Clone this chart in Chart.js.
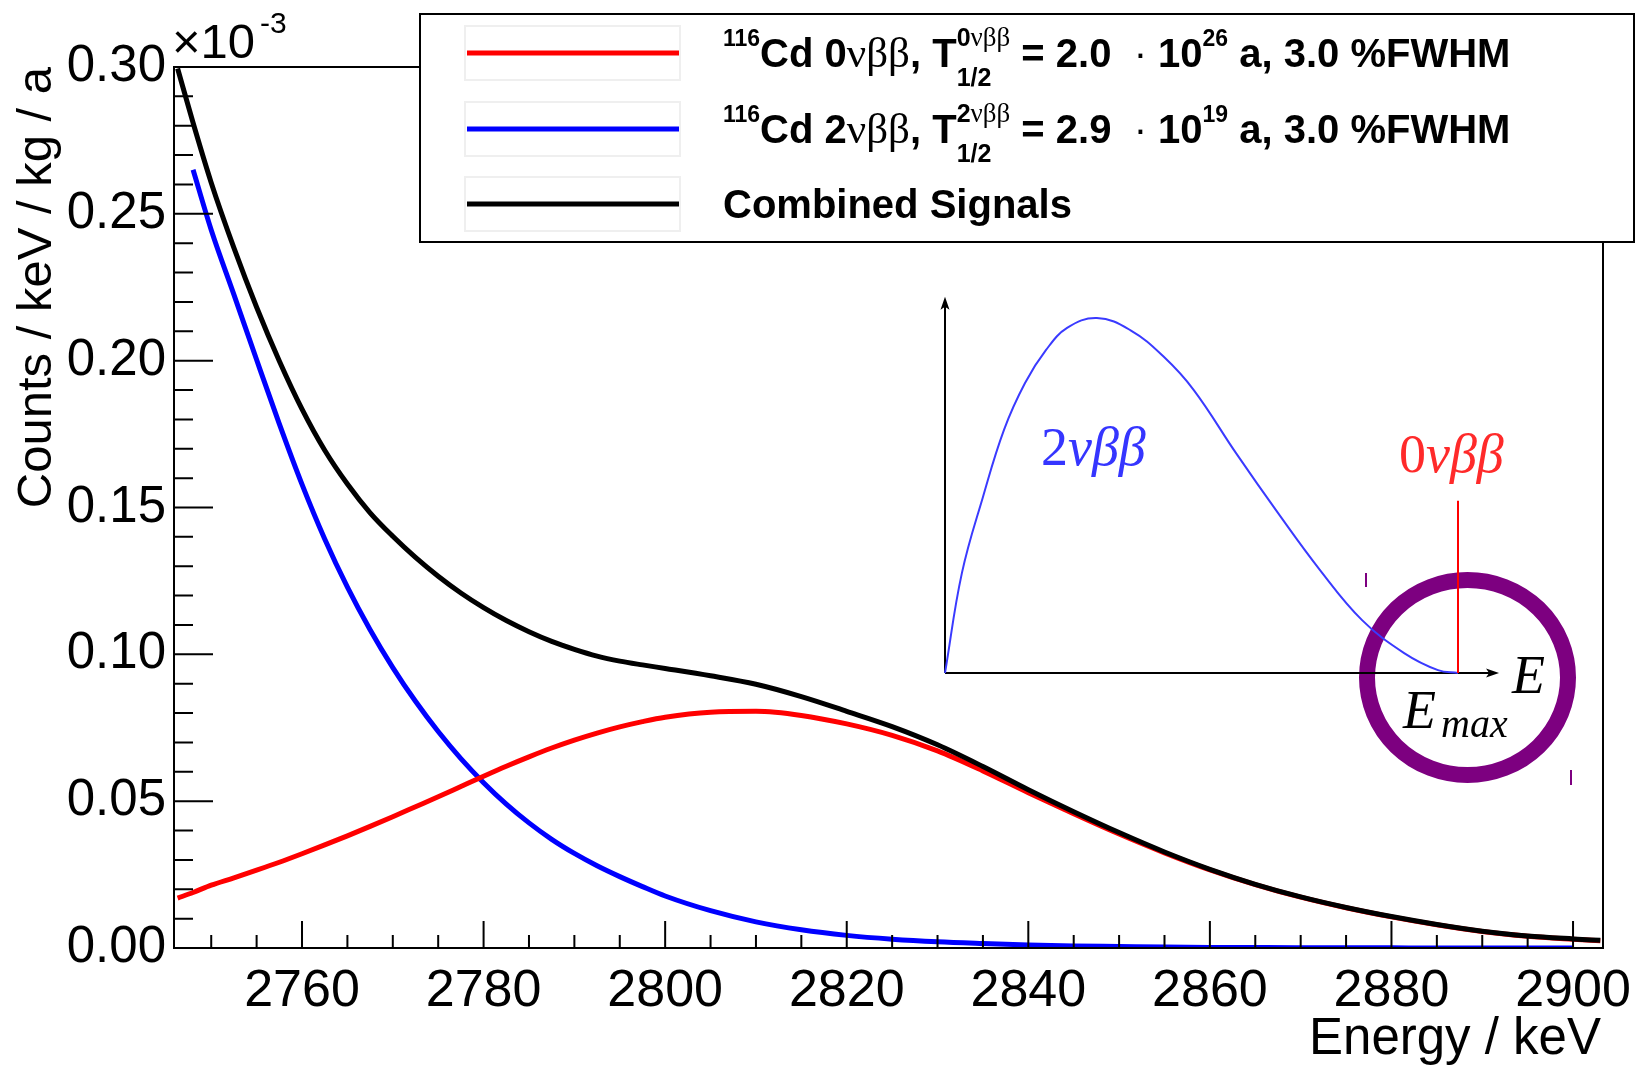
<!DOCTYPE html>
<html>
<head>
<meta charset="utf-8">
<script src="https://cdn.jsdelivr.net/npm/chart.js@4.4.1/dist/chart.umd.min.js"></script>
<style>
  html, body { margin: 0; padding: 0; background: #fff; }
  canvas { display: block; }
</style>
</head>
<body>
<canvas id="spectrum" width="1637" height="1065"></canvas>
<script>
// energy grid in keV
const energy = [2746.3, 2748, 2750, 2752.5, 2755, 2757.5, 2760, 2762.5, 2765, 2767.5,
  2770, 2772.5, 2775, 2777.5, 2780, 2782.5, 2785, 2787.5, 2790, 2792.5,
  2795, 2797.5, 2800, 2805, 2810, 2815, 2820, 2825, 2830, 2835,
  2840, 2845, 2850, 2855, 2860, 2865, 2870, 2875, 2880, 2885,
  2890, 2895, 2900, 2903];

// counts / keV / kg / a, in units of 1e-3
const combined = [0.2995, 0.2810, 0.2606, 0.2384, 0.2182, 0.1999, 0.1835, 0.1695, 0.1580, 0.1482,
  0.1402, 0.1330, 0.1266, 0.1209, 0.1159, 0.1115, 0.1077, 0.1044, 0.1017, 0.0994,
  0.0977, 0.0964, 0.0952, 0.0927, 0.0898, 0.0856, 0.0806, 0.0754, 0.0692, 0.0618,
  0.0539, 0.0464, 0.0393, 0.0327, 0.0268, 0.0217, 0.0174, 0.0138, 0.0107, 0.0080,
  0.0057, 0.0041, 0.0031, 0.0026];

const zeroNu = [0.0170, 0.0189, 0.0214, 0.0239, 0.0265, 0.0292, 0.0321, 0.0351, 0.0382, 0.0414,
  0.0447, 0.0481, 0.0515, 0.0550, 0.0585, 0.0619, 0.0651, 0.0681, 0.0708, 0.0732,
  0.0753, 0.0771, 0.0786, 0.0803, 0.0806, 0.0792, 0.0763, 0.0724, 0.0671, 0.0603,
  0.0529, 0.0457, 0.0388, 0.0324, 0.0266, 0.0216, 0.0173, 0.0137, 0.0106, 0.0079,
  0.0056, 0.0040, 0.0030, 0.0025];

const twoNu = [null, 0.2650, 0.2445, 0.2225, 0.2003, 0.1785, 0.1579, 0.1393, 0.1229, 0.1084,
  0.0955, 0.0840, 0.0737, 0.0645, 0.0563, 0.0490, 0.0426, 0.0370, 0.0322, 0.0280,
  0.0243, 0.0209, 0.0177, 0.0127, 0.0089, 0.0062, 0.0043, 0.0030, 0.0021, 0.0015,
  0.0010, 0.0007, 0.0005, 0.0003, 0.0002, 0.00015, 0.0001, 0.0001, 0.00005, 0,
  0, 0, 0, null];

const xTickValues = [2760, 2780, 2800, 2820, 2840, 2860, 2880, 2900];
const yTickValues = [0, 0.05, 0.10, 0.15, 0.20, 0.25, 0.30];

// inset sketch: E / Emax against spectrum shape (peak = 1)
const sketchE = [0, 0.033, 0.074, 0.115, 0.156, 0.197, 0.238, 0.296, 0.361, 0.427,
  0.485, 0.567, 0.649, 0.731, 0.813, 0.895, 0.961, 1.0];
const sketchShape = [0, 0.282, 0.496, 0.685, 0.817, 0.910, 0.972, 1.0, 0.966, 0.890,
  0.797, 0.620, 0.451, 0.290, 0.149, 0.056, 0.008, 0];
const peakE = [1, 1];
const peakHeight = [0, 0.485];

const SANS = '"Liberation Sans", Arial, Helvetica, sans-serif';
const SERIF = '"Liberation Serif", "Times New Roman", serif';

// layout of the frame and the inset (pixels)
const plot = { left: 174, top: 67, right: 1603, bottom: 948 };
const inset = { x0: 945, x1: 1458, y0: 673, yPeak: 318 };
const ring = { x: 1467.5, y: 677.5, rx: 100.5, ry: 97.5 };

const insetXPerUnit = inset.x1 - inset.x0;
const insetYPerUnit = inset.y0 - inset.yPeak;
const ixMin = -(inset.x0 - plot.left) / insetXPerUnit;
const ixMax = ixMin + (plot.right - plot.left) / insetXPerUnit;
const iyMin = -(plot.bottom - inset.y0) / insetYPerUnit;
const iyMax = iyMin + (plot.bottom - plot.top) / insetYPerUnit;

function pts(xs, ys) {
  return xs.map((x, i) => ({ x: x, y: ys[i] }));
}

// draws a run of text pieces, each with its own font and baseline shift
function rich(ctx, x, y, parts) {
  for (const p of parts) {
    if (p.up) {
      let ux = x, dx = x;
      for (const [t, f] of p.up) { ctx.font = f; ctx.fillText(t, ux, y + p.upDy); ux += ctx.measureText(t).width; }
      for (const [t, f] of p.down) { ctx.font = f; ctx.fillText(t, dx, y + p.downDy); dx += ctx.measureText(t).width; }
      x = Math.max(ux, dx);
    } else {
      const [t, f, dy] = p;
      ctx.font = f;
      ctx.fillText(t, x, y + (dy || 0));
      x += ctx.measureText(t).width;
    }
  }
  return x;
}

const LB = 'bold 40px ' + SANS;
const LG = '43px ' + SERIF;
const LS = 'bold 23px ' + SANS;
const LSB = 'bold 25px ' + SANS;
const LSG = '27px ' + SERIF;

function legendParts(n, half, exp) {
  return [
    ['116', LS, -21], ['Cd ' + n, LB], ['νββ', LG], [', T', LB],
    { up: [[n, LSB], ['νββ', LSG]], down: [['1/2', LSB]], upDy: -21, downDy: 19 },
    [' = ' + half + '  ', LB], ['·', '40px ' + SANS], [' 10', LB], [exp, LS, -21],
    [' a, 3.0 %FWHM', LB]
  ];
}

const decor = {
  id: 'decor',
  beforeDatasetsDraw(chart) {
    const ctx = chart.ctx;
    const ix = chart.scales.ix, iy = chart.scales.iy;
    ctx.save();
    // purple ring around the endpoint
    ctx.strokeStyle = '#7d0080';
    ctx.lineWidth = 16;
    ctx.beginPath();
    ctx.ellipse(ring.x, ring.y, ring.rx, ring.ry, 0, 0, 2 * Math.PI);
    ctx.stroke();
    ctx.lineWidth = 2;
    ctx.beginPath();
    ctx.moveTo(1366, 573); ctx.lineTo(1366, 587);
    ctx.moveTo(1571, 770); ctx.lineTo(1571, 785);
    ctx.stroke();

    // inset axes with arrows
    const ox = ix.getPixelForValue(0), oy = iy.getPixelForValue(0);
    const ax = ix.getPixelForValue(1.08), ay = iy.getPixelForValue(1.06);
    ctx.strokeStyle = '#000';
    ctx.fillStyle = '#000';
    ctx.lineWidth = 2;
    ctx.beginPath();
    ctx.moveTo(ox, oy); ctx.lineTo(ax - 6, oy);
    ctx.moveTo(ox, oy); ctx.lineTo(ox, ay + 6);
    ctx.stroke();
    ctx.beginPath();
    ctx.moveTo(ax, oy); ctx.lineTo(ax - 13, oy - 4.5); ctx.lineTo(ax - 10, oy); ctx.lineTo(ax - 13, oy + 4.5);
    ctx.closePath(); ctx.fill();
    ctx.beginPath();
    ctx.moveTo(ox, ay); ctx.lineTo(ox - 4.5, ay + 13); ctx.lineTo(ox, ay + 10); ctx.lineTo(ox + 4.5, ay + 13);
    ctx.closePath(); ctx.fill();
    ctx.restore();
  },
  afterDatasetsDraw(chart) {
    const ctx = chart.ctx;
    const ca = chart.chartArea;
    const x = chart.scales.x, y = chart.scales.y;
    ctx.save();
    ctx.strokeStyle = '#000';
    ctx.fillStyle = '#000';
    ctx.lineWidth = 2;
    ctx.strokeRect(ca.left, ca.top, ca.right - ca.left, ca.bottom - ca.top);

    // ROOT style ticks, drawn inward
    ctx.beginPath();
    for (let i = 0; i <= 30; i++) {
      const py = y.getPixelForValue(i / 100);
      ctx.moveTo(ca.left, py);
      ctx.lineTo(ca.left + (i % 5 === 0 ? 39 : 19), py);
    }
    for (let e = 2750; e <= 2900; e += 5) {
      const px = x.getPixelForValue(e);
      ctx.moveTo(px, ca.bottom);
      ctx.lineTo(px, ca.bottom - (e % 20 === 0 ? 27 : 13));
    }
    ctx.stroke();

    // axis titles and exponent
    ctx.textBaseline = 'alphabetic';
    ctx.textAlign = 'right';
    ctx.font = '51px ' + SANS;
    ctx.fillText('Energy / keV', 1601, 1054);
    ctx.font = '49px ' + SANS;
    ctx.save();
    ctx.translate(51, 67);
    ctx.rotate(-Math.PI / 2);
    ctx.fillText('Counts / keV / kg / a', 0, 0);
    ctx.restore();
    ctx.textAlign = 'left';
    ctx.fillText('×10', 172, 58);
    ctx.font = '30px ' + SANS;
    ctx.fillText('-3', 260, 33);

    // legend
    const box = { left: 420, top: 14, right: 1634, bottom: 242 };
    ctx.fillStyle = '#fff';
    ctx.fillRect(box.left, box.top, box.right - box.left, box.bottom - box.top);
    ctx.strokeStyle = '#000';
    ctx.lineWidth = 2;
    ctx.strokeRect(box.left, box.top, box.right - box.left, box.bottom - box.top);
    const rows = [53, 129, 204];
    const ds = chart.data.datasets;
    const texts = [legendParts('0', '2.0', '26'), legendParts('2', '2.9', '19'), [['Combined Signals', LB]]];
    [0, 1, 2].forEach((di, r) => {
      const cy = rows[r];
      ctx.strokeStyle = '#efefef';
      ctx.lineWidth = 2;
      ctx.strokeRect(465, cy - 27, 215, 54);
      ctx.strokeStyle = ds[di].borderColor;
      ctx.lineWidth = 5;
      ctx.beginPath();
      ctx.moveTo(467, cy); ctx.lineTo(679, cy);
      ctx.stroke();
      ctx.fillStyle = '#000';
      rich(ctx, 723, cy + 14, texts[r]);
    });

    // inset labels
    ctx.fillStyle = '#3535ff';
    rich(ctx, 1041, 465, [['2', '54px ' + SERIF], ['νββ', 'italic 54px ' + SERIF]]);
    ctx.fillStyle = '#ff2a2a';
    rich(ctx, 1399, 472, [['0', '54px ' + SERIF], ['νββ', 'italic 54px ' + SERIF]]);
    ctx.fillStyle = '#000';
    rich(ctx, 1512, 693, [['E', 'italic 54px ' + SERIF]]);
    rich(ctx, 1403, 728, [['E', 'italic 54px ' + SERIF]]);
    rich(ctx, 1441, 737, [['max', 'italic 40px ' + SERIF]]);
    ctx.restore();
  }
};

const chart = new Chart(document.getElementById('spectrum').getContext('2d'), {
  type: 'line',
  data: {
    datasets: [
      {
        label: '116Cd 0vbb',
        data: pts(energy, zeroNu),
        borderColor: '#ff0000',
        borderWidth: 5,
        cubicInterpolationMode: 'monotone',
        order: 1
      },
      {
        label: '116Cd 2vbb',
        data: pts(energy, twoNu),
        borderColor: '#0000ff',
        borderWidth: 5,
        cubicInterpolationMode: 'monotone',
        order: 2
      },
      {
        label: 'Combined Signals',
        data: pts(energy, combined),
        borderColor: '#000000',
        borderWidth: 5,
        cubicInterpolationMode: 'monotone',
        order: 0
      },
      {
        label: 'sketch 2vbb',
        data: pts(sketchE, sketchShape),
        borderColor: '#3a3aff',
        borderWidth: 2,
        tension: 0.4,
        xAxisID: 'ix',
        yAxisID: 'iy',
        order: 3
      },
      {
        label: 'sketch 0vbb',
        data: pts(peakE, peakHeight),
        borderColor: '#ff0000',
        borderWidth: 2,
        tension: 0,
        xAxisID: 'ix',
        yAxisID: 'iy',
        order: -1
      }
    ]
  },
  options: {
    responsive: false,
    animation: false,
    devicePixelRatio: 1,
    layout: { padding: { top: plot.top, right: 1637 - plot.right, left: 0, bottom: 0 } },
    elements: {
      point: { radius: 0 },
      line: { fill: false }
    },
    plugins: {
      legend: { display: false },
      tooltip: { enabled: false }
    },
    scales: {
      x: {
        type: 'linear',
        min: 2745.9,
        max: 2903.3,
        grid: { display: false, drawTicks: false },
        border: { display: false },
        afterBuildTicks: (s) => { s.ticks = xTickValues.map(v => ({ value: v })); },
        afterFit: (s) => { s.height = 1065 - plot.bottom; s.paddingLeft = 0; s.paddingRight = 0; },
        ticks: {
          autoSkip: false,
          maxRotation: 0,
          padding: 12,
          color: '#000',
          font: { family: SANS, size: 52 },
          callback: (v) => String(v)
        }
      },
      y: {
        type: 'linear',
        min: 0,
        max: 0.30,
        grid: { display: false, drawTicks: false },
        border: { display: false },
        afterBuildTicks: (s) => { s.ticks = yTickValues.map(v => ({ value: v })); },
        afterFit: (s) => { s.width = plot.left; s.paddingTop = 0; s.paddingBottom = 0; },
        ticks: {
          autoSkip: false,
          padding: 8,
          color: '#000',
          font: { family: SANS, size: 51 },
          callback: (v) => Number(v).toFixed(2)
        }
      },
      ix: { type: 'linear', display: false, min: ixMin, max: ixMax },
      iy: { type: 'linear', display: false, min: iyMin, max: iyMax }
    }
  },
  plugins: [decor]
});
</script>
</body>
</html>
